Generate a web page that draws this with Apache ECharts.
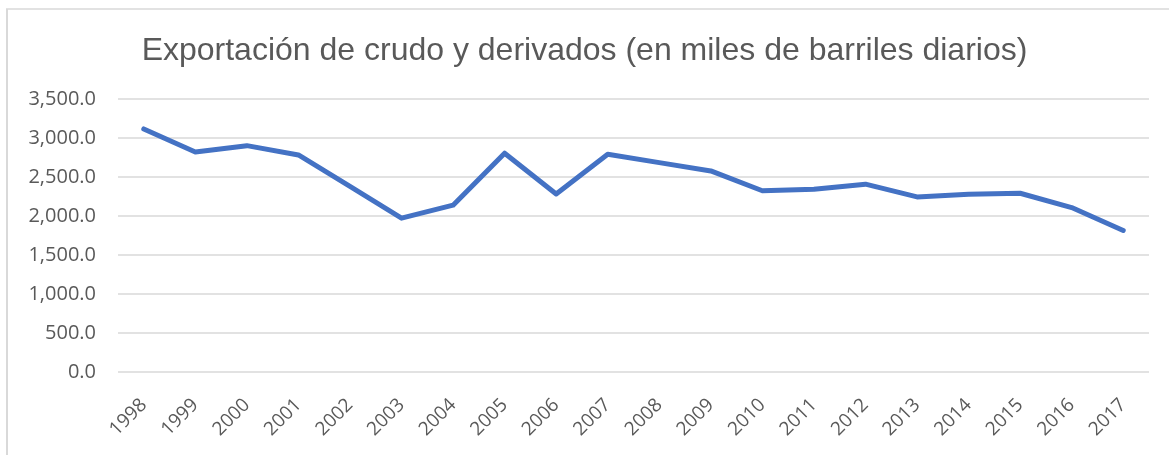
<!DOCTYPE html>
<html>
<head>
<meta charset="utf-8">
<script src="https://cdn.jsdelivr.net/npm/echarts@6/dist/echarts.min.js"></script>
<style>
html,body{margin:0;padding:0;background:#fff;}
#chart{width:1169px;height:455px;}
</style>
</head>
<body>
<div id="chart"></div>
<script>
const years = ['1998','1999','2000','2001','2002','2003','2004','2005','2006','2007','2008','2009','2010','2011','2012','2013','2014','2015','2016','2017'];
const exports_kbd = [3116, 2821, 2902, 2783, 2379, 1972, 2139, 2805, 2283, 2792, 2684, 2578, 2324, 2344, 2408, 2245, 2280, 2292, 2108, 1814];
const titleText = 'Exportación de crudo y derivados (en miles de barriles diarios)';

const chart = echarts.init(document.getElementById('chart'), null, {renderer: 'canvas'});
chart.setOption({
  animation: false,
  backgroundColor: '#ffffff',
  title: {
    text: titleText,
    left: 'center',
    top: 30,
    textStyle: {fontFamily: 'Liberation Sans, Arial, sans-serif', fontSize: 32, fontWeight: 'normal', color: '#595959'}
  },
  graphic: [
    {type: 'line', shape: {x1: 6, y1: 9, x2: 1169, y2: 9}, style: {stroke: '#d9d9d9', lineWidth: 1.5}},
    {type: 'line', shape: {x1: 7, y1: 9, x2: 7, y2: 455}, style: {stroke: '#d9d9d9', lineWidth: 2}}
  ],
  grid: {left: 118, right: 20, top: 99, bottom: 83, containLabel: false},
  xAxis: {
    type: 'category',
    data: years,
    boundaryGap: true,
    axisLine: {show: false},
    axisTick: {show: false},
    axisLabel: {
      rotate: 45,
      interval: 0,
      margin: 30,
      fontFamily: 'Open Sans, Noto Sans, sans-serif',
      fontSize: 19,
      color: '#595959'
    }
  },
  yAxis: {
    type: 'value',
    min: 0,
    max: 3500,
    interval: 500,
    axisLine: {show: false},
    axisTick: {show: false},
    splitLine: {lineStyle: {color: '#d9d9d9', width: 1.5}},
    axisLabel: {
      margin: 22,
      fontFamily: 'Open Sans, Noto Sans, sans-serif',
      fontSize: 20,
      color: '#595959',
      formatter: v => v.toLocaleString('en-US', {minimumFractionDigits: 1, maximumFractionDigits: 1})
    }
  },
  series: [{
    type: 'line',
    data: exports_kbd,
    symbol: 'none',
    lineStyle: {color: '#4472c4', width: 5, cap: 'round', join: 'round'},
    itemStyle: {color: '#4472c4'}
  }]
});
</script>
</body>
</html>
